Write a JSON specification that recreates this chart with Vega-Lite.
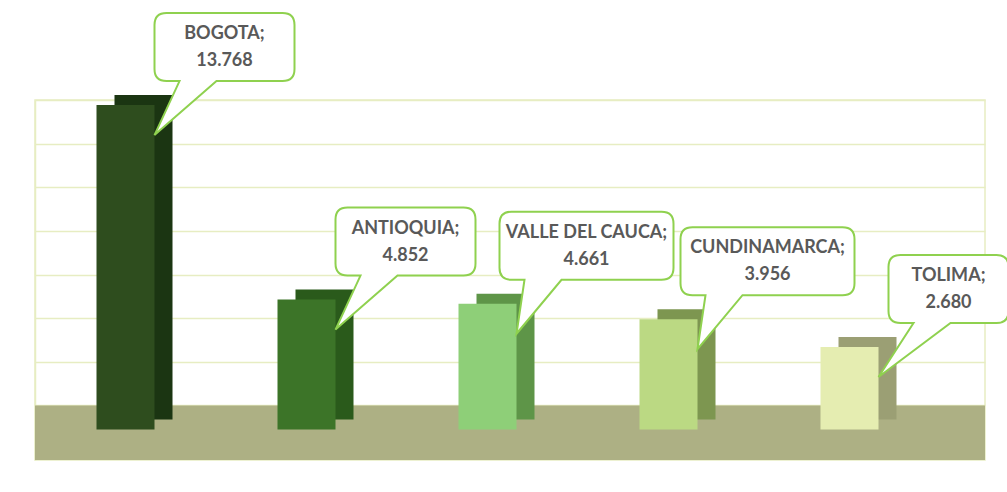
{
  "$schema": "https://vega.github.io/schema/vega-lite/v6.json",
  "width": 950,
  "height": 360,
  "padding": {"left": 35, "top": 100, "right": 22, "bottom": 32},
  "autosize": {"type": "none"},
  "background": "#ffffff",
  "config": {
    "view": {"stroke": "#e7edc2", "strokeWidth": 1.5},
    "axisY": {
      "labels": false, "ticks": false, "title": null,
      "grid": true, "gridColor": "#e7edc2", "gridWidth": 1.5,
      "domain": true, "domainColor": "#e7edc2", "domainWidth": 1.5
    },
    "locale": {"number": {"decimal": ",", "thousands": ".", "grouping": [3], "currency": ["$", ""]}}
  },
  "data": {
    "values": [
      {"region": "BOGOTA", "label": "BOGOTA;", "value": 13768},
      {"region": "ANTIOQUIA", "label": "ANTIOQUIA;", "value": 4852},
      {"region": "VALLE DEL CAUCA", "label": "VALLE DEL CAUCA;", "value": 4661},
      {"region": "CUNDINAMARCA", "label": "CUNDINAMARCA;", "value": 3956},
      {"region": "TOLIMA", "label": "TOLIMA;", "value": 2680}
    ]
  },
  "encoding": {
    "x": {
      "field": "region", "type": "nominal", "sort": null, "axis": null,
      "scale": {"paddingInner": 0, "paddingOuter": 0.1243, "align": 0}
    }
  },
  "layer": [
    {
      "data": {"values": [{}]},
      "mark": {"type": "rect", "color": "#adb084"},
      "encoding": {
        "x": null,
        "y": {
          "datum": 0, "type": "quantitative",
          "scale": {"domain": [-2500, 14000], "nice": false, "zero": false},
          "axis": {
            "orient": "left", "labels": false, "ticks": false, "title": null,
            "values": [0, 2000, 4000, 6000, 8000, 10000, 12000, 14000],
            "grid": true, "gridColor": "#e7edc2", "gridWidth": 1.5,
            "domain": true, "domainColor": "#e7edc2", "domainWidth": 1.5
          }
        },
        "y2": {"datum": -2500}
      }
    },
    {
      "mark": {"type": "bar", "width": 58, "xOffset": 18, "x2Offset": 18, "yOffset": -10, "y2Offset": -10},
      "encoding": {
        "y": {"field": "value", "type": "quantitative"},
        "y2": {"datum": -1100},
        "color": {
          "field": "region", "type": "nominal", "legend": null,
          "scale": {
            "domain": ["BOGOTA", "ANTIOQUIA", "VALLE DEL CAUCA", "CUNDINAMARCA", "TOLIMA"],
            "range": ["#1b3512", "#2a5a1b", "#5e9548", "#7d9650", "#9b9f74"]
          }
        }
      }
    },
    {
      "mark": {"type": "bar", "width": 58},
      "encoding": {
        "y": {"field": "value", "type": "quantitative"},
        "y2": {"datum": -1100},
        "fill": {
          "field": "region", "type": "nominal", "legend": null,
          "scale": {
            "domain": ["BOGOTA", "ANTIOQUIA", "VALLE DEL CAUCA", "CUNDINAMARCA", "TOLIMA"],
            "range": ["#2e4d1e", "#3c7428", "#8ecf78", "#bbd983", "#e5edb1"]
          }
        }
      }
    },
    {
      "mark": {"type": "point", "size": 4, "filled": true, "fill": "#ffffff", "stroke": "#8fd14f", "strokeWidth": 2, "opacity": 1, "xOffset": 29, "yOffset": 30},
      "encoding": {
        "y": {"field": "value", "type": "quantitative"},
        "shape": {
          "field": "region", "type": "nominal", "legend": null,
          "scale": {
            "domain": ["BOGOTA", "ANTIOQUIA", "VALLE DEL CAUCA", "CUNDINAMARCA", "TOLIMA"],
            "range": [
              "M12,-122 H128 Q140,-122 140,-110 V-66 Q140,-54 128,-54 H62 L0,0 L25,-54 H12 Q0,-54 0,-66 V-110 Q0,-122 12,-122 Z",
              "M12,-122 H128 Q140,-122 140,-110 V-66 Q140,-54 128,-54 H62 L0,0 L25,-54 H12 Q0,-54 0,-66 V-110 Q0,-122 12,-122 Z",
              "M-5,-122 H145 Q157,-122 157,-110 V-66 Q157,-54 145,-54 H45 L0,0 L8,-54 H-5 Q-17,-54 -17,-66 V-110 Q-17,-122 -5,-122 Z",
              "M-5,-122 H145 Q157,-122 157,-110 V-66 Q157,-54 145,-54 H45 L0,0 L8,-54 H-5 Q-17,-54 -17,-66 V-110 Q-17,-122 -5,-122 Z",
              "M22,-122 H118 Q130,-122 130,-110 V-66 Q130,-54 118,-54 H72 L0,0 L35,-54 H22 Q10,-54 10,-66 V-110 Q10,-122 22,-122 Z"
            ]
          }
        }
      }
    },
    {
      "mark": {"type": "text", "font": "Lato", "fontWeight": "bold", "fontSize": 18, "color": "#595959", "align": "center", "baseline": "middle", "dx": 99, "dy": -71},
      "encoding": {
        "y": {"field": "value", "type": "quantitative"},
        "text": {"field": "label", "type": "nominal"}
      }
    },
    {
      "mark": {"type": "text", "font": "Lato", "fontWeight": "bold", "fontSize": 18, "color": "#595959", "align": "center", "baseline": "middle", "dx": 99, "dy": -44},
      "encoding": {
        "y": {"field": "value", "type": "quantitative"},
        "text": {"field": "value", "type": "quantitative", "format": ","}
      }
    }
  ]
}
